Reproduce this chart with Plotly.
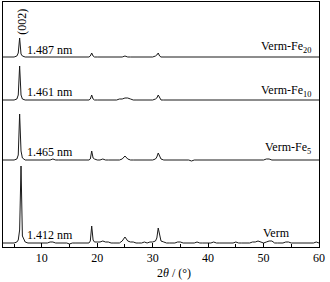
import plotly.graph_objects as go

# 2theta grid (degrees)
two_theta = [3.0, 3.5, 4.0, 4.5, 5.0, 5.5, 5.75, 6.0, 6.25, 6.5, 7.0, 7.5, 8.0, 8.5, 9.0, 9.5,
             10.0, 10.5, 11.0, 11.5, 12.0, 12.5, 13.0, 13.5, 14.0, 14.5, 15.0, 15.5, 16.0, 16.5,
             17.0, 17.5, 18.0, 18.5, 18.75, 19.0, 19.25, 19.5, 20.0, 20.5, 21.0, 21.5, 22.0, 22.5,
             23.0, 23.5, 24.0, 24.5, 25.0, 25.5, 26.0, 26.5, 27.0, 27.5, 28.0, 28.5, 29.0, 29.5,
             30.0, 30.5, 30.75, 31.0, 31.25, 31.5, 32.0, 32.5, 33.0, 33.5, 34.0, 34.5, 35.0, 35.5,
             36.0, 36.5, 37.0, 37.5, 38.0, 38.5, 39.0, 39.5, 40.0, 40.5, 41.0, 41.5, 42.0, 42.5,
             43.0, 43.5, 44.0, 44.5, 45.0, 45.5, 46.0, 46.5, 47.0, 47.5, 48.0, 48.5, 49.0, 49.5,
             50.0, 50.5, 51.0, 51.5, 52.0, 52.5, 53.0, 53.5, 54.0, 54.5, 55.0, 55.5, 56.0, 56.5,
             57.0, 57.5, 58.0, 58.5, 59.0, 59.5, 60.0]

# Intensities (a.u.), one list per sample
verm = [1, 1, 1, 1, 1, 2, 4, 14, 78, 8, 2, 1, 1, 1, 1, 1,
        1, 1, 1, 2, 2, 1, 1, 1, 1, 1, 0, 1, 1, 1,
        1, 1, 1, 1, 3, 18, 4, 2, 2, 2, 3, 2, 2, 1,
        1, 1, 1, 3, 7, 3, 2, 2, 1, 1, 1, 2, 1, 2,
        2, 3, 6, 16, 8, 3, 2, 1, 1, 1, 1, 2, 2, 1,
        1, 1, 1, 1, 2, 1, 1, 1, 1, 1, 2, 1, 1, 1,
        1, 1, 1, 1, 2, 1, 1, 1, 1, 1, 2, 2, 3, 2,
        1, 2, 3, 3, 1, 1, 1, 1, 2, 2, 1, 1, 1, 1,
        1, 1, 1, 1, 1, 2, 1]

verm_fe5 = [1, 1, 1, 1, 1, 2, 6, 47, 10, 3, 1, 1, 1, 1, 1, 1,
            1, 1, 1, 1, 2, 1, 1, 1, 1, 1, 1, 1, 1, 1,
            1, 1, 1, 1, 2, 10, 3, 2, 1, 1, 2, 1, 1, 1,
            1, 1, 1, 2, 5, 2, 1, 1, 1, 1, 1, 1, 1, 1,
            1, 2, 4, 8, 4, 2, 1, 1, 1, 1, 1, 1, 1, 1,
            1, 1, 0, 1, 1, 1, 1, 1, 1, 1, 1, 1, 1, 1,
            1, 1, 1, 1, 1, 1, 1, 1, 1, 1, 1, 1, 1, 1,
            1, 2, 2, 1, 1, 1, 1, 1, 1, 1, 1, 1, 1, 1,
            1, 1, 1, 1, 1, 1, 1]

verm_fe10 = [1, 1, 1, 1, 1, 2, 6, 35, 6, 2, 1, 1, 1, 1, 1, 1,
             1, 1, 1, 1, 1, 1, 1, 1, 1, 1, 1, 1, 1, 1,
             1, 1, 1, 1, 2, 6, 2, 1, 1, 1, 1, 1, 1, 1,
             1, 1, 2, 2, 3, 3, 2, 1, 1, 1, 1, 1, 1, 1,
             1, 2, 3, 6, 3, 1, 1, 1, 1, 1, 1, 1, 1, 1,
             1, 1, 1, 1, 1, 1, 1, 1, 1, 1, 1, 1, 1, 1,
             1, 1, 1, 1, 1, 1, 1, 1, 1, 1, 1, 1, 1, 1,
             1, 1, 1, 1, 1, 1, 1, 1, 1, 1, 1, 1, 1, 1,
             1, 1, 1, 1, 1, 1, 1]

verm_fe20 = [1, 1, 1, 1, 1, 2, 5, 20, 4, 2, 1, 1, 1, 1, 1, 1,
             1, 1, 1, 1, 1, 1, 1, 1, 1, 1, 1, 1, 1, 1,
             1, 1, 1, 1, 2, 5, 2, 1, 1, 1, 1, 1, 1, 1,
             1, 1, 1, 1, 2, 1, 1, 1, 1, 1, 1, 1, 1, 1,
             1, 2, 3, 5, 2, 1, 1, 1, 1, 1, 1, 1, 1, 1,
             1, 1, 1, 1, 1, 1, 1, 1, 1, 1, 1, 1, 1, 1,
             1, 1, 1, 1, 1, 1, 1, 1, 1, 1, 1, 1, 1, 1,
             1, 1, 1, 1, 1, 1, 1, 1, 1, 1, 1, 1, 1, 1,
             1, 1, 1, 1, 1, 1, 1]

series = [verm, verm_fe5, verm_fe10, verm_fe20]
series_names = ["Verm", "Verm-Fe<sub>5</sub>", "Verm-Fe<sub>10</sub>", "Verm-Fe<sub>20</sub>"]
offsets = [3, 86, 146, 189]
d_spacings = ["1.412 nm", "1.465 nm", "1.461 nm", "1.487 nm"]

FONT = "'Times New Roman', 'Liberation Serif', serif"

fig = go.Figure()
for ys, off in zip(series, offsets):
    fig.add_trace(go.Scatter(x=two_theta, y=[v + off for v in ys], mode="lines",
                             line=dict(color="#1a1a1a", width=1), showlegend=False))

# d-spacing labels
d_label_y = [12, 95, 155, 197]
for txt, yy in zip(d_spacings, d_label_y):
    fig.add_annotation(x=6.9, y=yy, text=txt, showarrow=False, xanchor="left", yanchor="middle",
                       font=dict(family=FONT, size=12, color="black"))

# sample labels
name_pos = [(52.4, "center", 14), (58.9, "right", 99), (58.9, "right", 156), (58.9, "right", 200)]
for nm, (xx, anc, yy) in zip(series_names, name_pos):
    fig.add_annotation(x=xx, y=yy, text=nm, showarrow=False, xanchor=anc, yanchor="middle",
                       font=dict(family=FONT, size=12, color="black"))

fig.add_annotation(x=6.4, y=225, text="(002)", textangle=-90, showarrow=False,
                   xanchor="center", yanchor="middle",
                   font=dict(family=FONT, size=12, color="black"))

fig.add_annotation(xref="paper", yref="paper", x=0.54, y=-0.108, text="2<i>θ</i> / (°)",
                   showarrow=False, xanchor="center", yanchor="middle",
                   font=dict(family=FONT, size=12, color="black"))

fig.update_layout(
    width=330, height=282,
    margin=dict(l=3, r=11, t=2, b=35),
    paper_bgcolor="white", plot_bgcolor="white",
    font=dict(family=FONT, size=12, color="black"),
    xaxis=dict(range=[3, 60], tickvals=[10, 20, 30, 40, 50, 60], ticks="inside", ticklen=4,
               tickcolor="black", showline=True, linecolor="black", linewidth=1, mirror=True,
               showgrid=False, zeroline=False,
               minor=dict(tickvals=[5, 15, 25, 35, 45, 55], ticks="inside", ticklen=3,
                          tickcolor="black", showgrid=False),
               tickfont=dict(family=FONT, size=12, color="black")),
    yaxis=dict(range=[0, 245], showticklabels=False, ticks="", showline=True, linecolor="black",
               linewidth=1, mirror=True, showgrid=False, zeroline=False),
)

fig.write_html("out.html", config={"displayModeBar": False},
               post_script="document.body.style.margin='0px';document.body.style.padding='0px';")
